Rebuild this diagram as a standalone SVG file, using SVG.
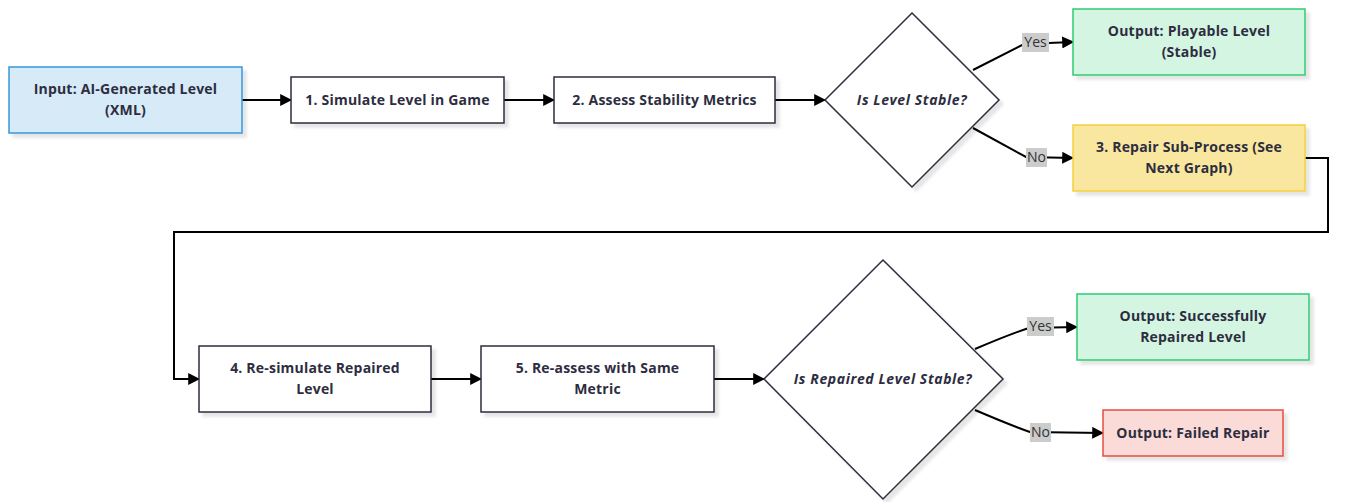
<svg xmlns="http://www.w3.org/2000/svg" width="1348" height="502" viewBox="0 0 1348 502">
<defs>
<marker id="arr" viewBox="0 0 10 10" refX="9" refY="5" markerWidth="6" markerHeight="6" markerUnits="strokeWidth" orient="auto"><path d="M0,0 L10,5 L0,10 z" fill="#000"/></marker>
<filter id="sh" x="-10%" y="-10%" width="130%" height="130%"><feDropShadow dx="4" dy="4" stdDeviation="1.5" flood-color="#000" flood-opacity="0.1"/></filter>
</defs>
<style>
.t{font-family:"Open Sans","Noto Sans",sans-serif;font-size:14px;letter-spacing:0.2px;font-weight:bold;fill:#2d2d3f;text-anchor:middle}
.q{font-family:"Open Sans","Noto Sans",sans-serif;font-size:14px;letter-spacing:0.6px;font-weight:bold;font-style:italic;fill:#2d2d3f;text-anchor:middle}
.l{font-family:"Open Sans","Noto Sans",sans-serif;font-size:14px;fill:#333;text-anchor:middle}
.box{fill:#fff;stroke:#2d2d3f;stroke-width:1.5;filter:url(#sh)}
.c{fill:none;stroke:#000;stroke-width:2;marker-end:url(#arr)}
.lb{fill:#cccccc}
</style>
<g id="connectors">
<path class="c" d="M242,100 L291,100"/>
<path class="c" d="M504,100 L554,100"/>
<path class="c" d="M775,100 L825,100"/>
<path class="c" d="M973,70 L1024,44 L1073,42"/>
<path class="c" d="M973,128 L1026,157 L1073,158"/>
<path class="c" d="M1305,158 L1328,158 L1328,232 L174,232 L174,379 L199,379"/>
<path class="c" d="M431,379 L481,379"/>
<path class="c" d="M714,379 L764,379"/>
<path class="c" d="M975,349 Q1010,334 1029,328 L1077,327"/>
<path class="c" d="M975,410 Q1010,425 1030,432 L1103,433"/>
<rect class="lb" x="1022" y="33" width="27" height="19"/>
<text class="l" x="1035.5" y="47">Yes</text>
<rect class="lb" x="1026" y="148" width="21" height="19"/>
<text class="l" x="1036.5" y="162">No</text>
<rect class="lb" x="1027" y="317" width="27" height="19"/>
<text class="l" x="1040.5" y="331">Yes</text>
<rect class="lb" x="1030" y="423" width="21" height="19"/>
<text class="l" x="1040.5" y="437">No</text>
</g>
<g id="input">
<rect x="9" y="67" width="233" height="66" fill="#d6eaf8" stroke="#3498db" stroke-width="1.5" filter="url(#sh)"/>
<text class="t" x="125.5" y="94">Input: AI-Generated Level</text>
<text class="t" x="125.5" y="115">(XML)</text>
</g>
<g id="simulate">
<rect class="box" x="291" y="77" width="213" height="46"/>
<text class="t" x="397.5" y="105">1. Simulate Level in Game</text>
</g>
<g id="assess">
<rect class="box" x="554" y="77" width="221" height="46"/>
<text class="t" x="664.5" y="105">2. Assess Stability Metrics</text>
</g>
<g id="decision1">
<polygon class="box" points="912,13 999,100 912,187 825,100"/>
<text class="q" x="912" y="105">Is Level Stable?</text>
</g>
<g id="playable">
<rect x="1073" y="9" width="232" height="66" fill="#d5f5e3" stroke="#2ecc71" stroke-width="1.5" filter="url(#sh)"/>
<text class="t" x="1189" y="36">Output: Playable Level</text>
<text class="t" x="1189" y="57">(Stable)</text>
</g>
<g id="repair">
<rect x="1073" y="125" width="232" height="66" fill="#f9e79f" stroke="#f4d03f" stroke-width="1.5" filter="url(#sh)"/>
<text class="t" x="1189" y="152">3. Repair Sub-Process (See</text>
<text class="t" x="1189" y="173">Next Graph)</text>
</g>
<g id="resimulate">
<rect class="box" x="199" y="346" width="232" height="66"/>
<text class="t" x="315" y="373">4. Re-simulate Repaired</text>
<text class="t" x="315" y="394">Level</text>
</g>
<g id="reassess">
<rect class="box" x="481" y="346" width="233" height="66"/>
<text class="t" x="597.5" y="373">5. Re-assess with Same</text>
<text class="t" x="597.5" y="394">Metric</text>
</g>
<g id="decision2">
<polygon class="box" points="883,260 1003,379 883,499 764,379"/>
<text class="q" x="883" y="384">Is Repaired Level Stable?</text>
</g>
<g id="success">
<rect x="1077" y="294" width="232" height="66" fill="#d5f5e3" stroke="#2ecc71" stroke-width="1.5" filter="url(#sh)"/>
<text class="t" x="1193" y="321">Output: Successfully</text>
<text class="t" x="1193" y="342">Repaired Level</text>
</g>
<g id="failed">
<rect x="1103" y="410" width="180" height="46" fill="#fadbd8" stroke="#e74c3c" stroke-width="1.5" filter="url(#sh)"/>
<text class="t" x="1193" y="438">Output: Failed Repair</text>
</g>
</svg>
